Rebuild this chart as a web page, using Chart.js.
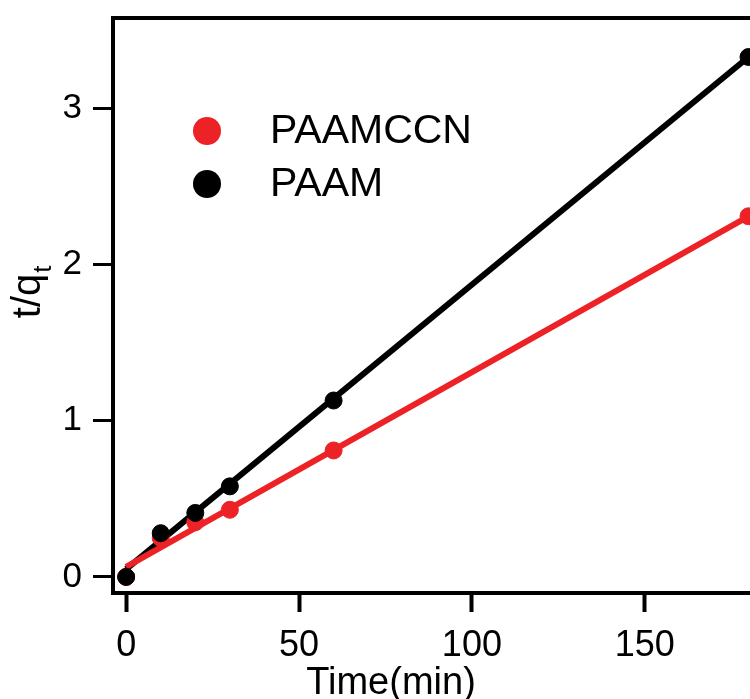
<!DOCTYPE html>
<html>
<head>
<meta charset="utf-8">
<script src="https://cdn.jsdelivr.net/npm/chart.js@4"></script>
<style>
  html, body { margin: 0; padding: 0; background: #fff; overflow: hidden; }
  #wrap { width: 750px; height: 699px; overflow: hidden; }
</style>
</head>
<body>
<div id="wrap"><canvas id="grafico-cinetica" width="800" height="699"></canvas></div>
<script>
// Dados
const tempoMin = [0, 10, 20, 30, 60, 180];
const valoresPaamccn = [0, 0.25, 0.35, 0.43, 0.81, 2.31];
const valoresPaam = [0, 0.28, 0.41, 0.58, 1.13, 3.33];

// Retas de ajuste (extremos)
const tempoAjuste = [0, 180];
const ajustePaamccn = [0.065, 2.31];
const ajustePaam = [0.05, 3.33];

const vermelho = "#ED2227";
const preto = "#000000";
const fonte = "'Liberation Sans', Arial, sans-serif";

const pontos = (xs, ys) => xs.map((x, i) => ({ x: x, y: ys[i] }));

// Moldura do gráfico
const moldura = {
    id: "moldura",
    afterDraw(chart) {
        const { ctx, chartArea: a } = chart;
        ctx.save();
        ctx.strokeStyle = preto;
        ctx.lineWidth = 4;
        ctx.strokeRect(a.left, a.top, a.right - a.left, a.bottom - a.top);
        ctx.restore();
    }
};

// Títulos dos eixos (y com subscrito)
const titulos = {
    id: "titulos",
    afterDraw(chart) {
        const ctx = chart.ctx;
        ctx.save();
        ctx.fillStyle = preto;
        ctx.font = "38px " + fonte;
        ctx.textAlign = "center";
        ctx.textBaseline = "alphabetic";
        ctx.fillText("Time(min)", 391, 694);

        ctx.translate(29, 289);
        ctx.rotate(-Math.PI / 2);
        ctx.textBaseline = "middle";
        ctx.font = "40px " + fonte;
        const w = ctx.measureText("t/q").width;
        const ws = 14;
        ctx.textAlign = "left";
        ctx.fillText("t/q", -(w + ws) / 2, 0);
        ctx.font = "26px " + fonte;
        ctx.fillText("t", -(w + ws) / 2 + w + 1, 15);
        ctx.restore();
    }
};

// Legenda dentro da área do gráfico
const legenda = {
    id: "legenda",
    afterDraw(chart) {
        const { ctx, chartArea: a } = chart;
        const itens = chart.data.datasets.filter(d => d.showLine === false).reverse();
        ctx.save();
        itens.forEach((d, i) => {
            const y = a.top + 113 + i * 53;
            ctx.beginPath();
            ctx.arc(a.left + 94, y, 14, 0, Math.PI * 2);
            ctx.fillStyle = d.backgroundColor;
            ctx.fill();
            ctx.fillStyle = preto;
            ctx.font = "41px " + fonte;
            ctx.textBaseline = "middle";
            ctx.textAlign = "left";
            ctx.fillText(d.label, a.left + 157, y + 1);
        });
        ctx.restore();
    }
};

const configCinetica = {
    type: "scatter",
    data: {
        datasets: [
            {
                label: "PAAM",
                data: pontos(tempoMin, valoresPaam),
                showLine: false,
                backgroundColor: preto,
                borderColor: preto,
                pointRadius: 8.5,
                order: 0
            },
            {
                label: "PAAMCCN",
                data: pontos(tempoMin, valoresPaamccn),
                showLine: false,
                backgroundColor: vermelho,
                borderColor: vermelho,
                pointRadius: 8.5,
                order: 1
            },
            {
                label: "ajuste PAAMCCN",
                data: pontos(tempoAjuste, ajustePaamccn),
                showLine: true,
                borderColor: vermelho,
                borderWidth: 6,
                pointRadius: 0,
                order: 2
            },
            {
                label: "ajuste PAAM",
                data: pontos(tempoAjuste, ajustePaam),
                showLine: true,
                borderColor: preto,
                borderWidth: 6,
                pointRadius: 0,
                order: 3
            }
        ]
    },
    options: {
        responsive: false,
        animation: false,
        layout: { padding: { top: 18, right: 10, left: 0, bottom: 0 } },
        plugins: {
            legend: { display: false },
            tooltip: { enabled: false }
        },
        scales: {
            x: {
                type: "linear",
                min: -3.8,
                max: 192,
                afterFit: s => { s.height = 106; s.paddingLeft = 0; s.paddingRight = 0; },
                border: { display: false },
                grid: {
                    drawOnChartArea: false,
                    tickLength: 19,
                    tickWidth: 4,
                    tickColor: preto
                },
                ticks: {
                    stepSize: 50,
                    includeBounds: false,
                    padding: 12,
                    color: preto,
                    font: { family: fonte, size: 36 }
                }
            },
            y: {
                type: "linear",
                min: -0.103,
                max: 3.58,
                afterFit: s => { s.width = 113; s.paddingTop = 0; s.paddingBottom = 0; },
                border: { display: false },
                grid: {
                    drawOnChartArea: false,
                    tickLength: 20,
                    tickWidth: 3,
                    tickColor: preto
                },
                ticks: {
                    stepSize: 1,
                    includeBounds: false,
                    padding: 11,
                    color: preto,
                    font: { family: fonte, size: 35 }
                }
            }
        }
    },
    plugins: [moldura, titulos, legenda]
};

let graficoCinetica = new Chart(
    document.getElementById("grafico-cinetica"),
    configCinetica
);
</script>
</body>
</html>
